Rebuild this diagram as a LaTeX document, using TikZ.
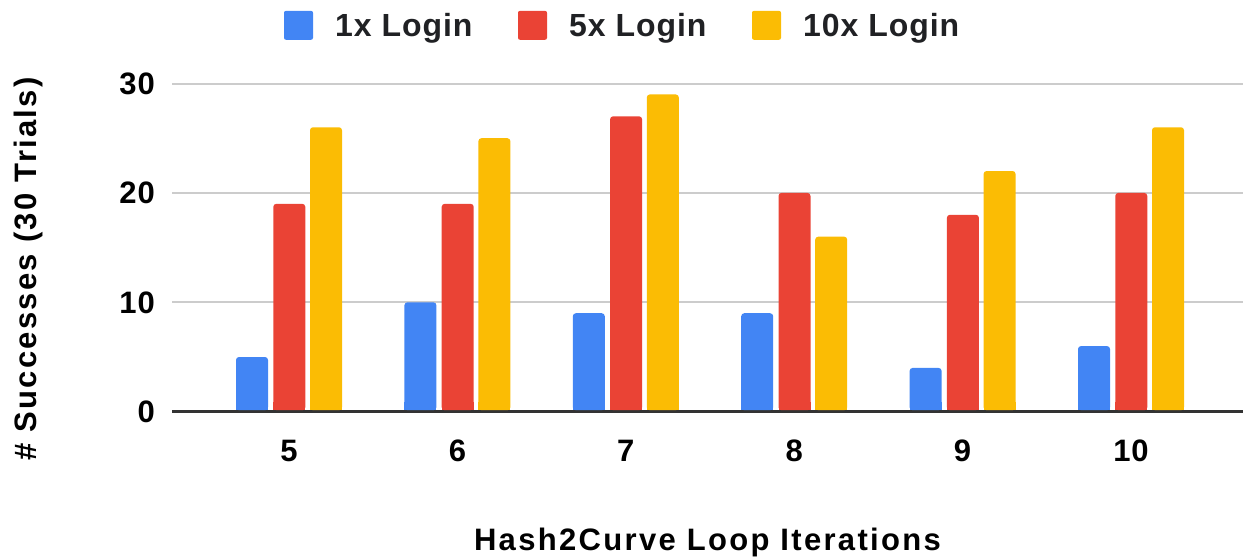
\documentclass[tikz,border=0pt]{standalone}
\usepackage{fontspec}
\setmainfont{Liberation Sans}
\newfontfamily\legfont[LetterSpace=3]{Liberation Sans}
\newfontfamily\tickfont[LetterSpace=3]{Liberation Sans}
\newfontfamily\titfont[LetterSpace=7.5]{Liberation Sans}
\definecolor{gblue}{HTML}{4285F4}
\definecolor{gred}{HTML}{EA4335}
\definecolor{gyellow}{HTML}{FBBC04}
\definecolor{gridgray}{HTML}{CCCCCC}
\definecolor{axisdark}{HTML}{333333}
\definecolor{legtext}{HTML}{202124}
\tikzset{
  legsq/.style={minimum size=29pt, inner sep=0pt, rounded corners=2pt},
  legtxt/.style={anchor=base west, inner sep=0pt, text=legtext, font=\legfont\bfseries\fontsize{32}{36}\selectfont},
  ticklab/.style={inner sep=0pt, text=black, font=\tickfont\bfseries\fontsize{31}{36}\selectfont},
  axtitle/.style={inner sep=0pt, text=black, font=\titfont\bfseries\fontsize{31}{36}\selectfont},
  gridline/.style={draw=gridgray, line width=2pt},
  zeroline/.style={draw=axisdark, line width=3pt},
}
\begin{document}
\begin{tikzpicture}[x=1pt,y=-1pt]
\useasboundingbox (0,0) rectangle (1243,558);
% grid
\foreach \v in {10,20,30} {
  \draw[gridline] (172,{411.7-\v*10.94}) -- (1243,{411.7-\v*10.94});
}
\draw[zeroline] (172,411.7) -- (1243,411.7);
% y tick labels
\foreach \v in {0,10,20,30} {
  \node[ticklab, anchor=base east] (y\v) at (155,{411.7-\v*10.94+11}) {\v};
}
% bars
\foreach \g/\lab/\a/\b/\c [count=\i from 0] in {0/5/5/19/26, 1/6/10/19/25, 2/7/9/27/29, 3/8/9/20/16, 4/9/4/18/22, 5/10/6/20/26} {
  \pgfmathsetmacro{\xl}{236+168.4*\g}
  \foreach \val/\off/\col in {\a/0/gblue, \b/37.3/gred, \c/74/gyellow} {
    \fill[\col, rounded corners=3pt] (\xl+\off,410.2) rectangle (\xl+\off+32,{411.7-\val*10.94});
    \fill[\col] (\xl+\off,410.2) rectangle (\xl+\off+32,{402});
  }
  \node[ticklab, anchor=base] (x\lab) at (\xl+53,461) {\lab};
}
% legend
\node[legsq, fill=gblue] (sq1) at (298.5,25.3) {};
\node[legtxt] (l1) at (335,36.7) {1x Login};
\node[legsq, fill=gred] (sq5) at (532.5,25.3) {};
\node[legtxt] (l5) at (569,36.7) {5x Login};
\node[legsq, fill=gyellow] (sq10) at (766.5,25.3) {};
\node[legtxt] (l10) at (803,36.7) {10x Login};
% axis titles
\node[axtitle, anchor=base] (xtitle) at (707.5,550) {Hash2Curve Loop Iterations};
\node[axtitle, anchor=base, rotate=90] (ytitle) at (36.5,269) {\# Successes (30 Trials)};
\end{tikzpicture}
\end{document}
